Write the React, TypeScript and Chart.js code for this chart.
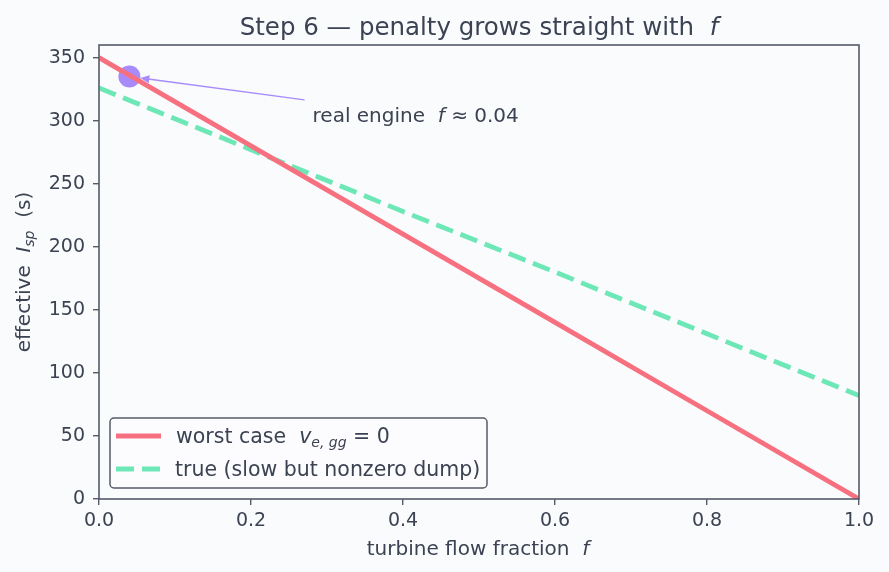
import React, { useEffect, useRef } from 'react';
import { Chart, registerables } from 'chart.js';

Chart.register(...registerables);

// ---- data ----
const fractions = [0, 0.2, 0.4, 0.6, 0.8, 1.0];
const worstCaseIsp = [350, 280, 210, 140, 70, 0];
const trueIsp = [326, 277, 228, 180, 131, 82];
const engineF = [0.04];
const engineIsp = [335];
const xTickValues = [0, 0.2, 0.4, 0.6, 0.8, 1.0];
const yTickValues = [0, 50, 100, 150, 200, 250, 300, 350];
const annotationAt = [0.281, 300];

const FAMILY = '"DejaVu Sans", "Liberation Sans", sans-serif';
const TEXT = '#3b4252';
const AXIS = '#555b68';
const BG = '#fafbfd';
const RED = '#f7707f';
const GREEN = '#6ee7b7';
const PURPLE = '#a78bfa';

type Piece = { t: string; font: string; dy?: number };

function richWidth(ctx: CanvasRenderingContext2D, pieces: Piece[]) {
  let w = 0;
  for (const p of pieces) {
    ctx.font = p.font;
    w += ctx.measureText(p.t).width;
  }
  return w;
}

function drawRich(
  ctx: CanvasRenderingContext2D,
  pieces: Piece[],
  x: number,
  y: number,
  align: 'left' | 'center'
) {
  const w = richWidth(ctx, pieces);
  let cx = align === 'center' ? x - w / 2 : x;
  ctx.textAlign = 'left';
  ctx.textBaseline = 'alphabetic';
  for (const p of pieces) {
    ctx.font = p.font;
    ctx.fillText(p.t, cx, y + (p.dy || 0));
    cx += ctx.measureText(p.t).width;
  }
  return w;
}

const f = (size: number, italic = false) =>
  `${italic ? 'italic ' : ''}${size}px ${FAMILY}`;

const decorPlugin = {
  id: 'decor',
  beforeDraw(chart: any) {
    const { ctx, width, height } = chart;
    ctx.save();
    ctx.fillStyle = BG;
    ctx.fillRect(0, 0, width, height);
    ctx.restore();
  },
  afterDatasetsDraw(chart: any) {
    const { ctx, scales } = chart;
    const xs = scales.x;
    const ys = scales.y;
    // annotation arrow
    const px = xs.getPixelForValue(engineF[0]);
    const py = ys.getPixelForValue(engineIsp[0]);
    const tx = xs.getPixelForValue(annotationAt[0]);
    const tyBase = ys.getPixelForValue(annotationAt[1]);
    ctx.save();
    const pieces: Piece[] = [
      { t: 'real engine  ', font: f(20) },
      { t: 'f', font: f(20, true) },
      { t: ' \u2248 0.04', font: f(20) },
    ];
    ctx.fillStyle = TEXT;
    const w = drawRich(ctx, pieces, tx, tyBase + 1.5, 'left');
    const cx = tx + w / 2;
    const cy = tyBase - 6;
    const dx = cx - px;
    const dy = cy - py;
    const len = Math.hypot(dx, dy);
    const ux = dx / len;
    const uy = dy / len;
    const startT = (tx - 8 - px) / ux;
    const sx = px + ux * startT;
    const sy = py + uy * startT;
    const ex = px + ux * 11;
    const ey = py + uy * 11;
    ctx.strokeStyle = PURPLE;
    ctx.lineWidth = 1.4;
    ctx.beginPath();
    ctx.moveTo(sx, sy);
    ctx.lineTo(ex + ux * 6, ey + uy * 6);
    ctx.stroke();
    ctx.fillStyle = PURPLE;
    ctx.beginPath();
    ctx.moveTo(ex, ey);
    ctx.lineTo(ex + ux * 9 - uy * 4, ey + uy * 9 + ux * 4);
    ctx.lineTo(ex + ux * 9 + uy * 4, ey + uy * 9 - ux * 4);
    ctx.closePath();
    ctx.fill();
    ctx.restore();
  },
  afterDraw(chart: any) {
    const { ctx, chartArea } = chart;
    const { left, right, top, bottom } = chartArea;
    ctx.save();
    // frame
    ctx.strokeStyle = AXIS;
    ctx.lineWidth = 1.6;
    ctx.strokeRect(left, top, right - left, bottom - top);

    ctx.fillStyle = TEXT;
    const midX = (left + right) / 2;
    // title
    drawRich(
      ctx,
      [
        { t: 'Step 6 \u2014 penalty grows straight with  ', font: f(24.5) },
        { t: 'f', font: f(24.5, true) },
      ],
      midX,
      35,
      'center'
    );
    // x label
    drawRich(
      ctx,
      [
        { t: 'turbine flow fraction  ', font: f(20) },
        { t: 'f', font: f(20, true) },
      ],
      midX - 1,
      555,
      'center'
    );
    // y label
    ctx.save();
    ctx.translate(30, (top + bottom) / 2);
    ctx.rotate(-Math.PI / 2);
    drawRich(
      ctx,
      [
        { t: 'effective  ', font: f(20) },
        { t: 'I', font: f(20, true) },
        { t: 'sp', font: f(14, true), dy: 4 },
        { t: '  (s)', font: f(20) },
      ],
      0,
      0,
      'center'
    );
    ctx.restore();

    // legend
    const lx = 110;
    const ly = 418;
    const lw = 377;
    const lh = 70;
    ctx.fillStyle = 'rgba(252,252,254,0.85)';
    ctx.strokeStyle = AXIS;
    ctx.lineWidth = 1.5;
    ctx.beginPath();
    (ctx as any).roundRect(lx, ly, lw, lh, 4);
    ctx.fill();
    ctx.stroke();

    ctx.lineWidth = 4.8;
    ctx.strokeStyle = RED;
    ctx.beginPath();
    ctx.moveTo(116, 436);
    ctx.lineTo(161, 436);
    ctx.stroke();
    ctx.strokeStyle = GREEN;
    ctx.setLineDash([18, 8]);
    ctx.beginPath();
    ctx.moveTo(116, 469);
    ctx.lineTo(161, 469);
    ctx.stroke();
    ctx.setLineDash([]);

    ctx.fillStyle = TEXT;
    drawRich(
      ctx,
      [
        { t: 'worst case  ', font: f(20.5) },
        { t: 'v', font: f(20.5, true) },
        { t: 'e, gg', font: f(14, true), dy: 4 },
        { t: ' = 0', font: f(20.5) },
      ],
      176,
      443,
      'left'
    );
    drawRich(
      ctx,
      [{ t: 'true (slow but nonzero dump)', font: f(20.5) }],
      175,
      476,
      'left'
    );
    ctx.restore();
  },
};

export default function App() {
  const ref = useRef<HTMLCanvasElement | null>(null);

  useEffect(() => {
    if (!ref.current) return;
    const chart = new Chart(ref.current, {
      type: 'line',
      data: {
        datasets: [
          {
            label: 'worst case',
            data: fractions.map((x, i) => ({ x, y: worstCaseIsp[i] })),
            borderColor: RED,
            borderWidth: 4.8,
            pointRadius: 0,
            fill: false,
            clip: 0,
            tension: 0,
          },
          {
            label: 'true',
            data: fractions.map((x, i) => ({ x, y: trueIsp[i] })),
            borderColor: GREEN,
            borderWidth: 4.8,
            borderDash: [18, 8],
            pointRadius: 0,
            fill: false,
            clip: 0,
            tension: 0,
          },
          {
            type: 'scatter',
            label: 'real engine',
            data: engineF.map((x, i) => ({ x, y: engineIsp[i] })),
            backgroundColor: PURPLE,
            borderColor: PURPLE,
            borderWidth: 0,
            pointRadius: 11,
            clip: false,
          } as any,
        ],
      },
      options: {
        responsive: false,
        animation: false,
        events: [],
        layout: { padding: { top: 45, right: 30, bottom: 0, left: 0 } },
        plugins: {
          legend: { display: false },
          title: { display: false },
          tooltip: { enabled: false },
        },
        scales: {
          x: {
            type: 'linear',
            min: 0,
            max: 1,
            afterBuildTicks: (s: any) => {
              s.ticks = xTickValues.map((v) => ({ value: v }));
            },
            afterFit: (s: any) => {
              s.height = 73;
            },
            ticks: {
              color: TEXT,
              font: { family: FAMILY, size: 19 },
              padding: 5,
              maxRotation: 0,
              autoSkip: false,
              callback: (v: any) => Number(v).toFixed(1),
            },
            grid: {
              display: true,
              drawOnChartArea: false,
              drawTicks: true,
              tickLength: 6,
              color: AXIS,
              lineWidth: 1.4,
            },
            border: { display: false },
          },
          y: {
            type: 'linear',
            min: 0,
            max: 360,
            afterBuildTicks: (s: any) => {
              s.ticks = yTickValues.map((v) => ({ value: v }));
            },
            afterFit: (s: any) => {
              s.width = 99;
            },
            ticks: {
              color: TEXT,
              font: { family: FAMILY, size: 19 },
              padding: 8,
              autoSkip: false,
              callback: (v: any) => String(v),
            },
            grid: {
              display: true,
              drawOnChartArea: false,
              drawTicks: true,
              tickLength: 6,
              color: AXIS,
              lineWidth: 1.4,
            },
            border: { display: false },
          },
        },
      },
      plugins: [decorPlugin],
    });
    return () => chart.destroy();
  }, []);

  return (
    <div style={{ position: 'fixed', left: 0, top: 0, width: 889, height: 572, background: BG }}>
      <canvas ref={ref} width={889} height={572} style={{ display: 'block', width: 889, height: 572 }} />
    </div>
  );
}
